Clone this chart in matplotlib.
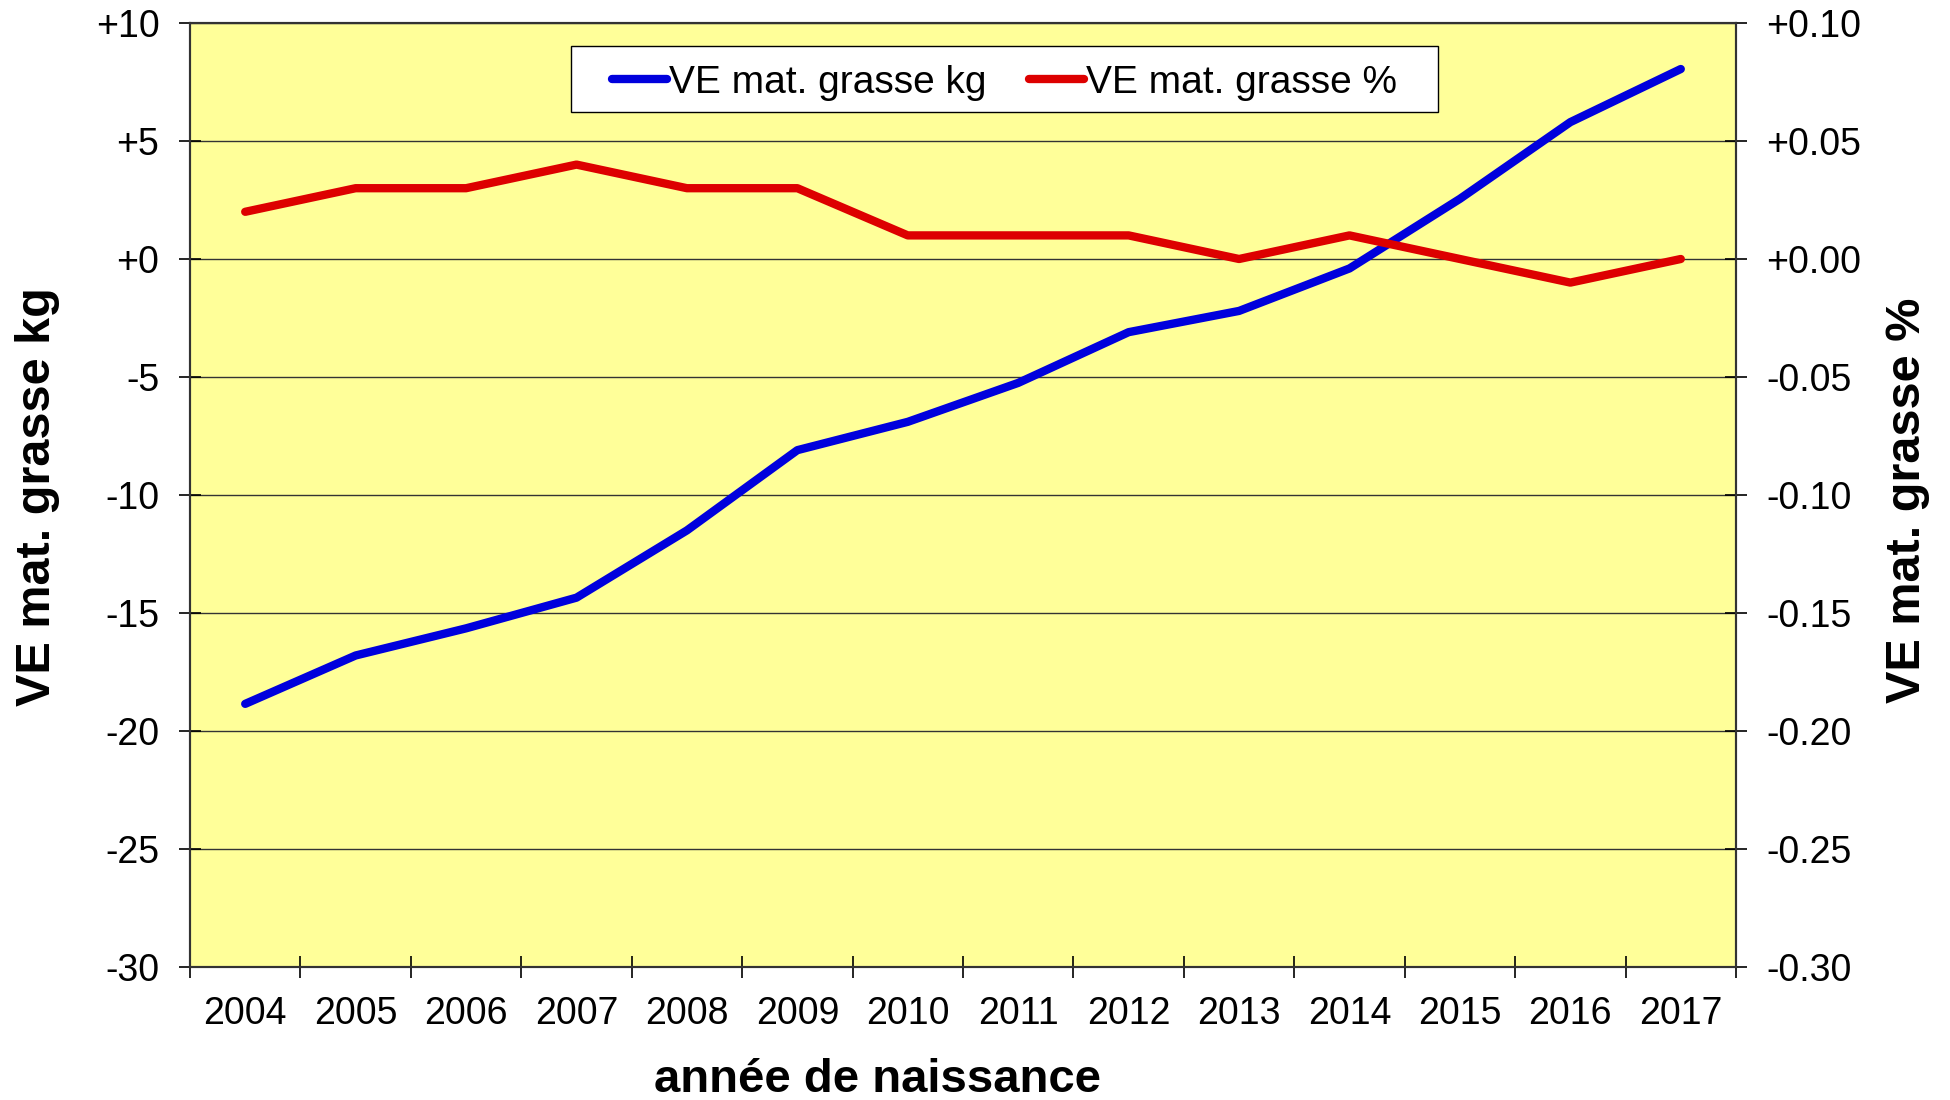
import matplotlib
matplotlib.use("Agg")
import matplotlib.pyplot as plt
import numpy as np
from matplotlib.patches import Rectangle
from matplotlib.ticker import FixedLocator, FuncFormatter

plt.rcParams['font.family'] = ['Liberation Sans', 'DejaVu Sans']

# data
years = ['2004', '2005', '2006', '2007', '2008', '2009', '2010',
         '2011', '2012', '2013', '2014', '2015', '2016', '2017']
ve_kg = [-18.85, -16.8, -15.65, -14.35, -11.5, -8.1, -6.9,
         -5.25, -3.1, -2.2, -0.4, 2.55, 5.8, 8.05]
ve_pct = [0.02, 0.03, 0.03, 0.04, 0.03, 0.03, 0.01,
          0.01, 0.01, 0.00, 0.01, 0.00, -0.01, 0.00]
kg_ticks = [-30, -25, -20, -15, -10, -5, 0, 5, 10]
pct_ticks = [-0.30, -0.25, -0.20, -0.15, -0.10, -0.05, 0.00, 0.05, 0.10]

W, H = 1950, 1100
fig = plt.figure(figsize=(W / 100, H / 100), dpi=100)
ax = fig.add_axes([190 / W, 1 - 967 / H, (1736 - 190) / W, (967 - 23) / H])
ax.set_facecolor('#FFFF99')
ax2 = ax.twinx()

x = np.arange(len(years))
l1, = ax.plot(x, ve_kg, color='#0000DD', lw=6, solid_capstyle='round',
              solid_joinstyle='round', label='VE mat. grasse kg', zorder=3)
l2, = ax2.plot(x, ve_pct, color='#DD0000', lw=6, solid_capstyle='round',
               solid_joinstyle='round', label='VE mat. grasse %', zorder=3)

ax.set_xlim(-0.5, len(years) - 0.5)
ax.set_ylim(-30, 10)
ax2.set_ylim(-0.30, 0.10)

ax.set_yticks(kg_ticks)
ax.yaxis.set_major_formatter(FuncFormatter(lambda v, p: f"{v:+.0f}"))
ax2.set_yticks(pct_ticks)
ax2.yaxis.set_major_formatter(FuncFormatter(lambda v, p: f"{round(v, 2) + 0.0:+.2f}"))

ax.set_xticks(x)
ax.set_xticklabels(years)
ax.xaxis.set_minor_locator(FixedLocator(np.arange(-0.5, len(years), 1.0)))
ax.tick_params(axis='x', which='major', length=0, labelsize=27, pad=21)
ax.tick_params(axis='x', which='minor', direction='inout', length=16, width=1.2)
ax.tick_params(axis='y', direction='inout', length=16, width=1.2, labelsize=27, pad=14)
ax2.tick_params(axis='y', direction='inout', length=16, width=1.2, labelsize=27, pad=14)

ax.grid(axis='y', color='#333333', lw=1.0)
ax.set_axisbelow(True)

for a in (ax, ax2):
    for s in a.spines.values():
        s.set_color('#333333')
        s.set_linewidth(1.5)

# axis titles placed by their centres
fig.text(38 / W, 1 - 497 / H, 'VE mat. grasse kg', fontsize=35, fontweight='bold',
         rotation=90, ha='center', va='center')
fig.text(1908 / W, 1 - 500 / H, 'VE mat. grasse %', fontsize=35, fontweight='bold',
         rotation=90, ha='center', va='center')
fig.text(877 / W, 1 - 1092 / H, 'année de naissance', fontsize=34,
         fontweight='bold', ha='center', va='baseline')

# legend box, wider than matplotlib's own frame
ax2.add_patch(Rectangle((571 / W, 1 - 112 / H), (1438 - 571) / W, (112 - 46) / H,
                        transform=fig.transFigure, facecolor='white',
                        edgecolor='black', lw=1.0, zorder=4))
leg = ax2.legend([l1, l2], [l1.get_label(), l2.get_label()], ncol=2,
                 loc='center', bbox_to_anchor=((571 + 1438) / 2 / W, 1 - 83 / H),
                 bbox_transform=fig.transFigure, fontsize=28, frameon=False,
                 handlelength=1.4, handletextpad=0.05, columnspacing=1.1,
                 borderpad=0.3)
leg.set_zorder(5)

fig.savefig('out.png', dpi=100)
